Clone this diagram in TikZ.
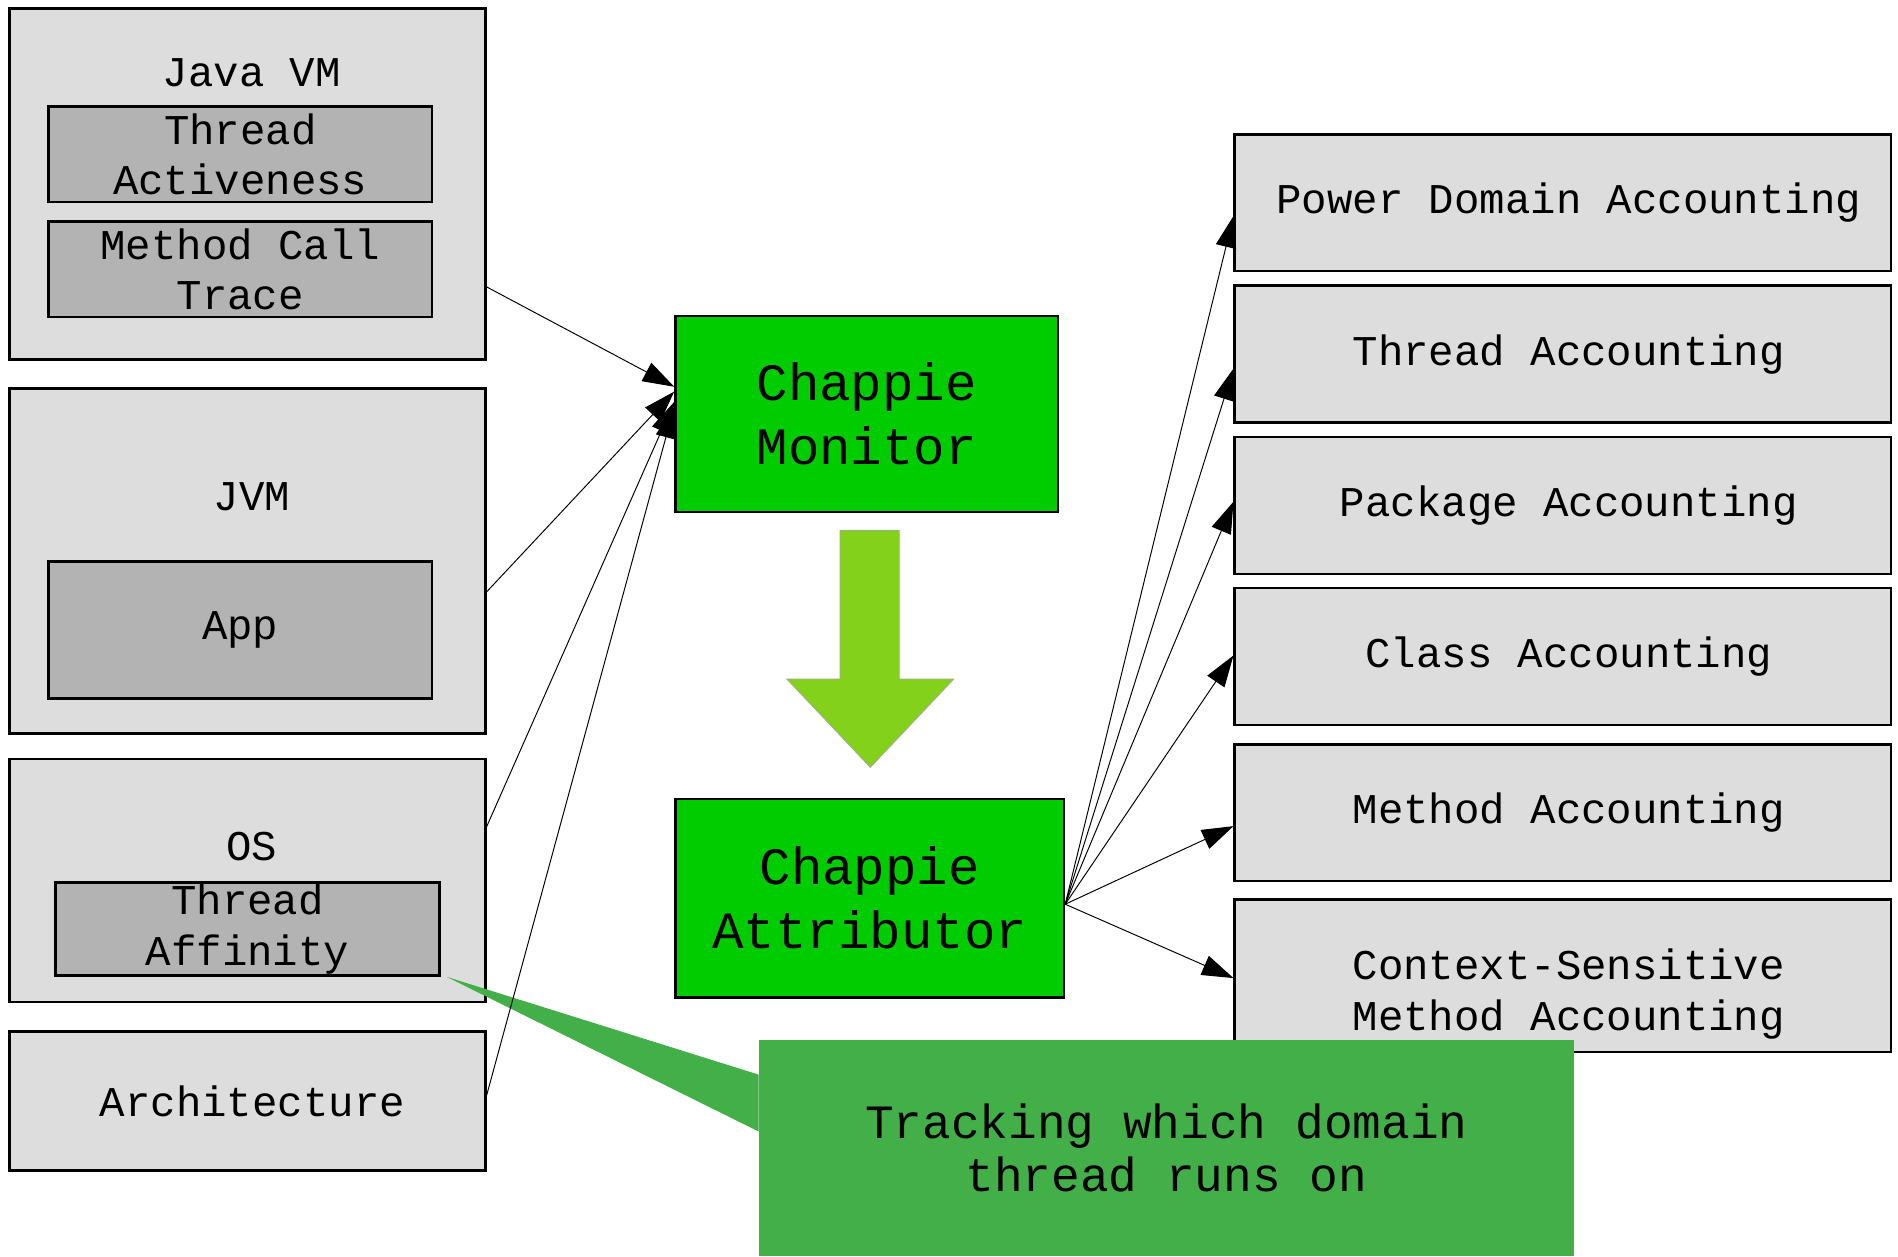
\documentclass[tikz,border=0pt]{standalone}
\usepackage{xcolor}
\usepackage{fontspec}
\usepackage{tikz}
\usetikzlibrary{positioning, calc, arrows.meta}

\newfontfamily\boxfont{Liberation Mono}

\definecolor{outergray}{HTML}{DDDDDD}
\definecolor{innergray}{HTML}{B3B3B3}
\definecolor{chappiegreen}{HTML}{00CC00}
\definecolor{flowgreen}{HTML}{83D11A}
\definecolor{notegreen}{HTML}{42AF48}

\begin{document}
\begin{tikzpicture}[x=1pt, y=-1pt,
	boxtext/.style={align=center, font=\boxfont\fontsize{35}{42}\selectfont},
	outerbox/.style={boxtext, draw, line width=2pt, fill=outergray, inner sep=0pt, minimum width=393pt},
	innerbox/.style={boxtext, draw, line width=2pt, fill=innergray, inner sep=0pt, minimum width=317pt},
	accbox/.style={boxtext, draw, line width=2pt, fill=outergray, inner sep=0pt, minimum width=542pt, minimum height=113pt, execute at begin node=\hspace*{10pt}},
	chappiebox/.style={draw, line width=2pt, fill=chappiegreen, inner sep=0pt, align=center, font=\boxfont\fontsize{43.3}{53}\selectfont},
	notebox/.style={fill=notegreen, inner sep=0pt, align=center, minimum width=673pt, minimum height=179pt, font=\boxfont\fontsize{39.5}{44}\selectfont},
	flow/.style={-{Triangle[length=26pt,width=17pt]}, line width=0.8pt}]
	\useasboundingbox (0,0) rectangle (1568,1038);
	
	% left column
	\node [outerbox, minimum height=290pt] (javavm) at (204.5,152) {};
	\node [boxtext] (javavmlabel) at (208,60) {Java VM};
	\node [innerbox, minimum height=79pt] (activeness) at (198.5,127.5) {Thread\\Activeness};
	\node [innerbox, minimum height=79pt] (calltrace) at (198.5,222.5) {Method Call\\Trace};
	
	\node [outerbox, minimum height=285pt] (jvm) at (204.5,463.5) {};
	\node [boxtext] (jvmlabel) at (208,410) {JVM};
	\node [innerbox, minimum height=113pt] (app) at (198.5,520.5) {App};
	
	\node [outerbox, minimum height=201pt] (os) at (204.5,727.5) {};
	\node [boxtext] (oslabel) at (208,699) {OS};
	\node [innerbox, minimum height=77pt] (affinity) at (204.5,767.5) {Thread\\Affinity};
	
	\node [outerbox, minimum height=115pt, execute at begin node=\hspace*{8pt}] (arch) at (204.5,909.5) {Architecture};
	
	% chappie
	\node [chappiebox, minimum width=316pt, minimum height=162pt] (monitor) at (716,342) {Chappie\\Monitor};
	\node [chappiebox, minimum width=321pt, minimum height=164pt] (attributor) at (718.5,742) {Chappie\\Attributor};
	\draw [fill=flowgreen, draw=gray!70, line width=0.6pt] (694,438) -- (743,438) -- (743,561) -- (788,561) -- (719,634) -- (650,561) -- (694,561) -- cycle;
	
	% right column
	\node [accbox] (power) at (1291,167.5) {Power Domain Accounting};
	\node [accbox] (threadacc) at (1291,292.5) {Thread Accounting};
	\node [accbox] (packageacc) at (1291,417.5) {Package Accounting};
	\node [accbox] (classacc) at (1291,542.5) {Class Accounting};
	\node [accbox] (methodacc) at (1291,671.5) {Method Accounting};
	\node [boxtext, draw, line width=2pt, fill=outergray, inner sep=0pt, minimum width=542pt, minimum height=126pt] (contextacc) at (1291,806) {};
	\node [boxtext] (contextlabel) at (1296,821) {Context-Sensitive\\Method Accounting};
	
	% callout
	\node [notebox] (note) at (963.5,948.5) {Tracking which domain\\thread runs on};
	\fill [notegreen] ($(note.north west)+(0,29)$) -- ($(affinity.south east)+(5,0)$) -- ($(note.north west)+(0,76)$) -- cycle;
	
	% connectors
	\draw [flow] ($(javavm.east)+(0,85)$) -- ($(monitor.west)+(0,-22.5)$);
	\draw [flow] ($(jvm.east)+(0,25.5)$) -- ($(monitor.west)+(0,-18.5)$);
	\draw [flow] ($(os.east)+(0,-44.5)$) -- ($(monitor.west)+(0,-10)$);
	\draw [flow] ($(arch.east)+(0,-4.5)$) -- ($(monitor.west)+(0,-6)$);
	
	\foreach \acc/\dy in {power/11, threadacc/12, packageacc/-3, classacc/-1, methodacc/11, contextacc/2}
		\draw [flow] ($(attributor.east)+(0,5)$) -- ($(\acc.west)+(0,\dy)$);
\end{tikzpicture}
\end{document}
